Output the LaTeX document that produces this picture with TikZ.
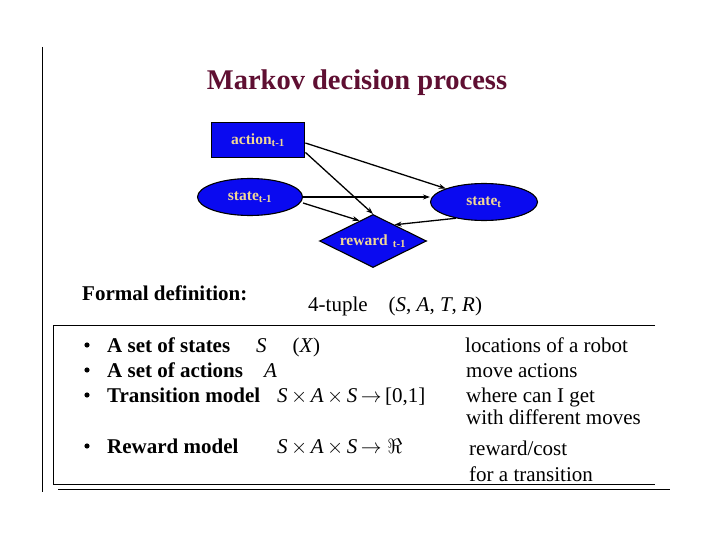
\documentclass[tikz,border=0pt]{standalone}
\usepackage{fontspec}
\setmainfont{Liberation Serif}
\usetikzlibrary{shapes.geometric,calc,arrows.meta}
\definecolor{nodeblue}{RGB}{10,10,240}
\definecolor{tan}{RGB}{240,215,150}
\definecolor{maroon}{RGB}{95,15,50}
\tikzset{
  nodelbl/.style={text=tan,font=\bfseries\fontsize{15.5}{17}\selectfont},
  actbox/.style={draw=black,line width=1.8pt,fill=nodeblue,minimum width=93pt,minimum height=35pt,nodelbl},
  stateell/.style={ellipse,draw=black,line width=1.1pt,fill=nodeblue,minimum width=105pt,minimum height=37pt,inner sep=0pt,nodelbl},
  rewdia/.style={diamond,draw=black,line width=1.1pt,fill=nodeblue,minimum width=107pt,minimum height=53pt,inner sep=0pt,aspect=2,nodelbl},
  arr/.style={-{Stealth[length=7pt,width=5pt]},line width=1.3pt},
  txt/.style={anchor=base west,inner sep=0pt,font=\fontsize{21}{24}\selectfont},
  btxt/.style={anchor=base west,inner sep=0pt,font=\bfseries\fontsize{21}{24}\selectfont},
  frame/.style={line width=0.8pt}
}
\begin{document}
\begin{tikzpicture}[x=1pt,y=-1pt]
\useasboundingbox[fill=white] (0,0) rectangle (720,540);
% title
\node[inner sep=0pt,text=maroon,font=\bfseries\fontsize{28.5}{32}\selectfont] (title) at (357,83) {Markov decision process};
% graph
\node[actbox] (act) at (258,140) {action\textsubscript{t-1}};
\node[stateell] (stp) at (250,197) {state\textsubscript{t-1}};
\node[stateell,minimum width=107pt] (st) at (484,202) {state\textsubscript{t}};
\node[rewdia] (dia) at (373,241) {reward\,\,\textsubscript{t-1}};
\draw[arr] ([yshift=-3pt]act.east) -- (st.north west);
\draw[arr] ([yshift=6pt]act.south east) -- (dia.north);
\draw[arr] (stp.east) -- (st.west |- stp.east);
\draw[arr] ([yshift=-6pt]stp.east) -- ($(dia.north)!0.25!(dia.west)$);
\draw[arr] (st.-150) -- ($(dia.north)!0.4!(dia.east)$);
% formal definition
\node[btxt] (fd) at (82,300) {Formal definition:};
\node[txt] (tup) at (308,311) {4-tuple\quad(\textit{S}, \textit{A}, \textit{T}, \textit{R})};
% frame lines
\coordinate (tl) at (53,325);
\coordinate (tr) at (655,325);
\coordinate (bl) at (53,484);
\coordinate (br) at (655,484);
\draw[frame] (tr) -- (tl) -- (bl) -- (br);
\coordinate (b2l) at (58,489);
\coordinate (b2r) at (670,489);
\draw[frame] (b2l) -- (b2r);
\coordinate (vt) at (42,47);
\coordinate (vb) at (42,492);
\draw[frame] (vt) -- (vb);
% bullets
\foreach \yy in {345,370,395,446}{
  \fill (87,\yy) circle (2.6pt);
}
\node[btxt] (r1) at (107,352) {A set of states};
\node[txt] (r1m) at (256,352) {\textit{S}\hspace{26pt}(\textit{X})};
\node[btxt] (r2) at (107,377) {A set of actions};
\node[txt] (r2m) at (264,377) {\textit{A}};
\node[btxt] (r3) at (107,402) {Transition model};
\node[txt] (r3m) at (277,402) {\textit{S}\,$\times$\,\textit{A}\,$\times$\,\textit{S}\,$\rightarrow$\,[0,1]};
\node[btxt] (r4) at (107,453) {Reward model};
\node[txt] (r4m) at (277,453) {\textit{S}\,$\times$\,\textit{A}\,$\times$\,\textit{S}\,$\rightarrow\Re$};
% right column
\node[txt] (c1) at (465,352) {locations of a robot};
\node[txt] (c2) at (466,377) {move actions};
\node[txt] (c3) at (466,402) {where can I get};
\node[txt] (c4) at (466,424) {with different moves};
\node[txt] (c5) at (469,455) {reward/cost};
\node[txt] (c6) at (469,481) {for a transition};
\end{tikzpicture}
\end{document}
